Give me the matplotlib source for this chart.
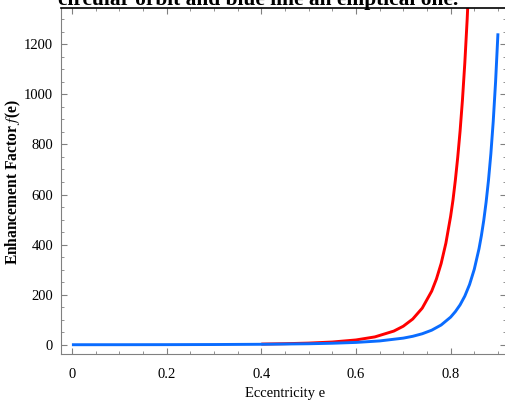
import matplotlib
matplotlib.use("Agg")
import matplotlib.pyplot as plt
from matplotlib.ticker import MultipleLocator

plt.rcParams['font.family'] = ['Liberation Serif', 'DejaVu Serif']
plt.rcParams['mathtext.fontset'] = 'stix'

# blue: elliptical orbit
ecc_blue = [0.0, 0.1, 0.2, 0.3, 0.4, 0.5, 0.55, 0.6, 0.65, 0.7, 0.72, 0.74,
            0.76, 0.78, 0.8, 0.81, 0.82, 0.83, 0.84, 0.85, 0.86, 0.865, 0.87,
            0.875, 0.88, 0.885, 0.89, 0.895, 0.9]
f_blue = [1.0, 1.07, 1.29, 1.78, 2.76, 4.88, 6.9, 10.2, 16.1, 27.3, 34.6, 44.7,
          58.9, 79.7, 111, 133, 160, 195, 241, 302, 384, 436, 497,
          570, 657, 762, 891, 1050, 1243]

# red: circular orbit
ecc_red = [0.4, 0.45, 0.5, 0.55, 0.6, 0.64, 0.68, 0.7, 0.72, 0.74, 0.76,
           0.77, 0.78, 0.79, 0.8, 0.805, 0.81, 0.815, 0.82, 0.825, 0.83,
           0.835, 0.84]
f_red = [3.6, 5.1, 7.5, 11.8, 20.0, 32.2, 55.4, 74.8, 103.5, 146.8, 214.6,
         263, 325, 406, 513, 578, 657, 748, 853, 977, 1125, 1300, 1509]

title = "circular orbit and blue line an elliptical one."

fig = plt.figure(figsize=(5.06, 4.04), dpi=100)
ax = fig.add_axes([61.5 / 506, 50 / 404, 1 - 61.5 / 506, 346 / 404])

ax.plot(ecc_red, f_red, color='#ff0000', lw=2.1, solid_capstyle='butt')
ax.plot(ecc_blue, f_blue, color='#0a6cff', lw=2.1, solid_capstyle='butt')

ax.set_xlim(-0.022, 0.917)
ax.set_ylim(-36, 1344)

ax.xaxis.set_major_locator(MultipleLocator(0.2))
ax.xaxis.set_minor_locator(MultipleLocator(0.05))
ax.yaxis.set_major_locator(MultipleLocator(200))
ax.yaxis.set_minor_locator(MultipleLocator(50))
ax.set_xticks([0, 0.2, 0.4, 0.6, 0.8])
ax.set_xticklabels(['0', '0.2', '0.4', '0.6', '0.8'])

ax.tick_params(which='both', direction='in', top=True, right=True,
               color='#808080', labelsize=10.5, labelcolor='black')
ax.tick_params(which='major', length=4, width=0.8, pad=10)
ax.tick_params(which='minor', length=2, width=0.6)
ax.tick_params(axis='y', which='major', pad=6)

for side in ['left', 'bottom', 'right']:
    ax.spines[side].set_color('#808080')
ax.spines['top'].set_color('black')
ax.spines['top'].set_linewidth(1.2)

ax.set_xlabel("Eccentricity e", fontsize=10.5)
ax.xaxis.set_label_coords(0.502, -0.095)
ax.set_ylabel(r"Enhancement Factor $f$(e)", fontsize=11.2, fontweight='bold')
ax.yaxis.set_label_coords(-0.087, 0.496)

fig.text(58 / 506, 1 - 5 / 404, title, fontsize=15.4, fontweight='bold',
         ha='left', va='baseline')

fig.savefig("out.png", dpi=100)
